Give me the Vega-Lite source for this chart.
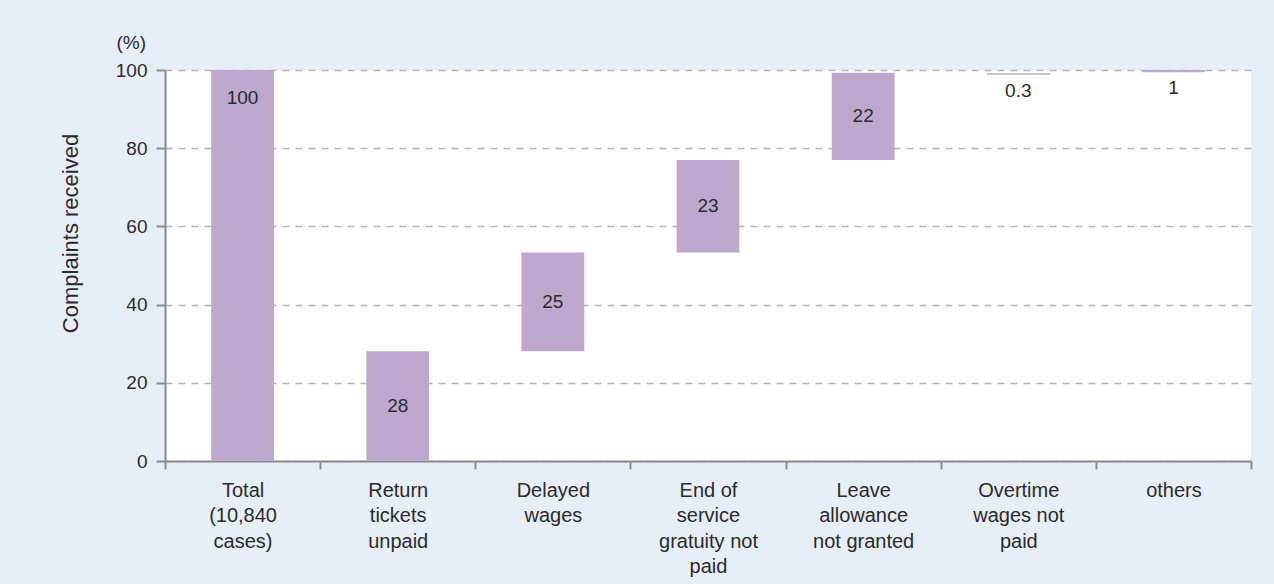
{
  "$schema": "https://vega.github.io/schema/vega-lite/v6.json",
  "width": 1086,
  "height": 391,
  "autosize": {"type": "none"},
  "padding": {"left": 165, "top": 70, "right": 23, "bottom": 123},
  "background": "#e8eef7",
  "config": {
    "view": {"fill": "white", "stroke": null},
    "font": "Liberation Sans",
    "text": {"color": "#2b2b2b"}
  },
  "title": {
    "text": "(%)",
    "anchor": "start",
    "frame": "group",
    "align": "right",
    "baseline": "bottom",
    "dx": -19,
    "dy": 27,
    "offset": 16,
    "fontSize": 19,
    "fontWeight": "normal",
    "color": "#2b2b2b"
  },
  "data": {
    "values": [
      {"cat": "Total\n(10,840\ncases)", "start": 0, "end": 100, "label": "100"},
      {"cat": "Return\ntickets\nunpaid", "start": 0, "end": 28.1, "label": "28"},
      {"cat": "Delayed\nwages", "start": 28.1, "end": 53.3, "label": "25"},
      {"cat": "End of\nservice\ngratuity not\npaid", "start": 53.3, "end": 77.0, "label": "23"},
      {"cat": "Leave\nallowance\nnot granted", "start": 77.0, "end": 99.3, "label": "22"},
      {"cat": "Overtime\nwages not\npaid", "start": 98.8, "end": 99.2, "label": "0.3"},
      {"cat": "others", "start": 99.4, "end": 100, "label": "1"}
    ]
  },
  "encoding": {
    "x": {
      "field": "cat",
      "type": "nominal",
      "sort": null,
      "scale": {"paddingInner": 0, "paddingOuter": 0},
      "axis": {
        "title": null,
        "labelAngle": 0,
        "labelExpr": "datum.value ? split(datum.value, '\\n') : ''",
        "tickBand": "extent",
        "tickSize": 8,
        "tickColor": "#8c8c8c",
        "tickWidth": 2,
        "domainColor": "#8c8c8c",
        "domainWidth": 2,
        "labelFontSize": 20,
        "labelLineHeight": 25.5,
        "labelPadding": 11,
        "labelColor": "#2b2b2b",
        "labelLimit": 0,
        "grid": false
      }
    }
  },
  "layer": [
    {
      "mark": {"type": "bar", "color": "#bea8cd", "width": {"band": 0.405}},
      "encoding": {
        "y": {
          "field": "start",
          "type": "quantitative",
          "scale": {"domain": [0, 100], "nice": false},
          "axis": {
            "title": "Complaints received",
            "values": [0, 20, 40, 60, 80, 100],
            "grid": true,
            "gridDash": [7, 6],
            "gridColor": "#b4b4b4",
            "gridWidth": 1.5,
            "tickSize": 9,
            "tickColor": "#8c8c8c",
            "tickWidth": 2,
            "domainColor": "#8c8c8c",
            "domainWidth": 2,
            "labelPadding": 9,
            "labelFontSize": 19,
            "labelColor": "#2b2b2b",
            "titleFontSize": 22,
            "titleFontWeight": "normal",
            "titleColor": "#2b2b2b",
            "titlePadding": 33,
            "titleY": 163
          }
        },
        "y2": {"field": "end"}
      }
    },
    {
      "transform": [
        {"filter": "datum.end - datum.start >= 5 && datum.end < 100"},
        {"fold": ["start", "end"], "as": ["k", "v"]}
      ],
      "mark": {"type": "text", "fontSize": 19, "baseline": "middle"},
      "encoding": {
        "y": {"aggregate": "mean", "field": "v", "type": "quantitative"},
        "text": {"field": "label", "type": "nominal"}
      }
    },
    {
      "transform": [{"filter": "datum.start == 0 && datum.end == 100"}],
      "mark": {"type": "text", "fontSize": 19, "baseline": "middle", "dy": 28},
      "encoding": {
        "y": {"field": "end", "type": "quantitative"},
        "text": {"field": "label", "type": "nominal"}
      }
    },
    {
      "transform": [{"filter": "datum.end - datum.start < 5"}],
      "mark": {"type": "text", "fontSize": 19, "baseline": "middle", "dy": 16},
      "encoding": {
        "y": {"field": "start", "type": "quantitative"},
        "text": {"field": "label", "type": "nominal"}
      }
    }
  ]
}
